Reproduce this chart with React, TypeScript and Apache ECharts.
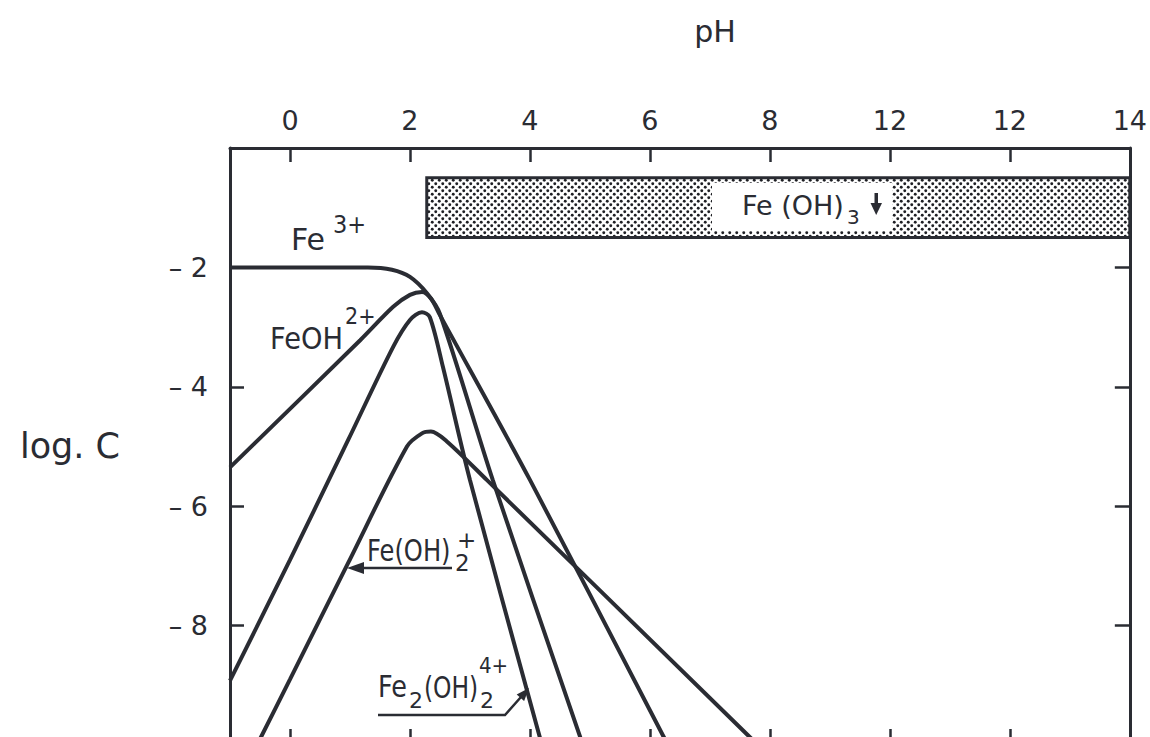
import React, { useEffect, useRef } from "react";
import * as echarts from "echarts";

// pH axis (top) and log C axis (left)
const phTicks = [0, 2, 4, 6, 8, 10, 12, 14];
const phTickLabels = ["0", "2", "4", "6", "8", "12", "12", "14"];
const logTicks = [-2, -4, -6, -8];
const logTickLabels = ["– 2", "– 4", "– 6", "– 8"];

// Species concentration curves: [pH, log C]
const fe3: [number, number][] = [
  [-1, -2.0], [1.3, -2.0], [1.7, -2.04], [2.0, -2.16], [2.28, -2.43],
  [2.5, -2.78], [3.38, -5.56], [4.9, -10.05],
];
const feOH: [number, number][] = [
  [-1, -5.35], [1.17, -3.22], [1.72, -2.66], [2.0, -2.46], [2.2, -2.41],
  [2.35, -2.52], [2.5, -2.8], [4.0, -5.56], [6.3, -10.0],
];
const fe2OH2: [number, number][] = [
  [-1, -8.92], [0, -6.9], [0.97, -4.89], [1.72, -3.33], [2.0, -2.88],
  [2.2, -2.75], [2.33, -2.83], [2.55, -3.67], [3.0, -5.56], [4.2, -10.0],
];
const feOH2: [number, number][] = [
  [-0.55, -10.0], [0, -8.9], [0.97, -6.95], [1.95, -5.0],
  [2.2, -4.78], [2.35, -4.75], [2.62, -4.92], [3.28, -5.56], [7.8, -10.0],
];

// Fe(OH)3 precipitation band: [pH from, log C top, pH to, log C bottom]
const precipitate = [[2.28, -0.5, 14, -1.5]];

const INK = "#2a2c33";
const FONT = '"DejaVu Sans", "Liberation Sans", sans-serif';

const dotTile =
  "data:image/svg+xml;charset=utf-8," +
  encodeURIComponent(
    '<svg xmlns="http://www.w3.org/2000/svg" width="7" height="7">' +
      '<rect width="7" height="7" fill="#ffffff"/>' +
      '<circle cx="1.75" cy="1.75" r="1.45" fill="#1e1f24"/>' +
      '<circle cx="5.25" cy="5.25" r="1.45" fill="#1e1f24"/>' +
      "</svg>"
  );

function txt(
  x: number,
  y: number,
  text: string,
  size: number,
  opts: { scaleX?: number; align?: string } = {}
) {
  return {
    type: "text",
    x,
    y,
    z: 20,
    scaleX: opts.scaleX ?? 1,
    style: {
      text,
      fontSize: size,
      fontFamily: FONT,
      fill: INK,
      align: opts.align ?? "left",
      verticalAlign: "middle",
    },
  };
}

function lineSeries(name: string, data: [number, number][]) {
  return {
    name,
    type: "line",
    data,
    showSymbol: false,
    smooth: 0.3,
    xAxisIndex: 0,
    yAxisIndex: 0,
    lineStyle: { color: INK, width: 4 },
    z: 3,
  };
}

export default function App() {
  const ref = useRef<HTMLDivElement>(null);

  useEffect(() => {
    if (!ref.current) return;
    const chart = echarts.init(ref.current, null, { renderer: "svg" });

    const axisLine = { show: true, onZero: false, lineStyle: { color: INK, width: 3 } };
    const tickStyle = { color: INK, width: 2.5 };
    const labelStyle = { fontSize: 27, fontFamily: FONT, color: INK };

    const option: any = {
      animation: false,
      backgroundColor: "#ffffff",
      grid: { left: 230, right: 20, top: 148, bottom: 15, containLabel: false },
      xAxis: [
        {
          type: "value",
          position: "top",
          min: -1,
          max: 14,
          axisLine,
          axisTick: { show: true, inside: true, length: 14, customValues: phTicks, lineStyle: tickStyle },
          axisLabel: {
            show: true,
            customValues: phTicks,
            margin: 14,
            ...labelStyle,
            formatter: (v: number) => phTickLabels[phTicks.indexOf(Math.round(v))] ?? "",
          },
          splitLine: { show: false },
        },
        {
          type: "value",
          position: "bottom",
          min: -1,
          max: 14,
          axisLine,
          axisTick: { show: true, inside: true, length: 16, customValues: phTicks.slice(0, 7), lineStyle: tickStyle },
          axisLabel: { show: false },
          splitLine: { show: false },
        },
      ],
      yAxis: [
        {
          type: "value",
          position: "left",
          min: -10,
          max: 0,
          axisLine,
          axisTick: { show: true, inside: true, length: 14, customValues: logTicks, lineStyle: tickStyle },
          axisLabel: {
            show: true,
            customValues: logTicks,
            margin: 22,
            ...labelStyle,
            formatter: (v: number) => logTickLabels[logTicks.indexOf(Math.round(v))] ?? "",
          },
          splitLine: { show: false },
        },
        {
          type: "value",
          position: "right",
          min: -10,
          max: 0,
          axisLine,
          axisTick: { show: true, inside: true, length: 15, customValues: logTicks, lineStyle: tickStyle },
          axisLabel: { show: false },
          splitLine: { show: false },
        },
      ],
      series: [
        {
          type: "custom",
          xAxisIndex: 0,
          yAxisIndex: 0,
          data: precipitate,
          encode: { x: [0, 2], y: [1, 3] },
          z: 2,
          renderItem: (_params: any, api: any) => {
            const p0 = api.coord([api.value(0), api.value(1)]);
            const p1 = api.coord([api.value(2), api.value(3)]);
            return {
              type: "rect",
              shape: { x: p0[0], y: p0[1], width: p1[0] - p0[0], height: p1[1] - p0[1] },
              style: {
                fill: { image: dotTile, repeat: "repeat", imageWidth: 7, imageHeight: 7 },
                stroke: INK,
                lineWidth: 3,
              },
            };
          },
        },
        lineSeries("Fe3+", fe3),
        lineSeries("FeOH2+", feOH),
        lineSeries("Fe2(OH)2 4+", fe2OH2),
        lineSeries("Fe(OH)2+", feOH2),
      ],
      graphic: [
        // axis titles
        txt(715, 31, "pH", 30, { align: "center" }),
        txt(70, 446, "log. C", 35, { align: "center" }),

        // Fe3+
        txt(291, 239, "Fe", 30),
        txt(333, 225, "3+", 25, { scaleX: 0.9 }),

        // FeOH2+
        txt(270, 338, "FeOH", 31, { scaleX: 0.88 }),
        txt(345, 316, "2+", 23, { scaleX: 0.9 }),

        // Fe(OH)2+ with pointer
        txt(367, 550, "Fe(OH)", 31, { scaleX: 0.78 }),
        txt(455, 563, "2", 23),
        txt(457, 540, "+", 23),
        { type: "line", z: 20, shape: { x1: 362, y1: 568, x2: 452, y2: 568 }, style: { stroke: INK, lineWidth: 2.5 } },
        { type: "polygon", z: 20, shape: { points: [[347, 568], [364, 562], [364, 574]] }, style: { fill: INK } },

        // Fe2(OH)2 4+ with pointer
        txt(378, 687, "Fe", 30, { scaleX: 0.85 }),
        txt(409, 700, "2", 22),
        txt(424, 687, "(OH)", 30, { scaleX: 0.78 }),
        txt(480, 700, "2", 22),
        txt(479, 666, "4+", 22, { scaleX: 0.9 }),
        {
          type: "polyline",
          z: 20,
          shape: { points: [[378, 715], [505, 715], [521, 697]] },
          style: { stroke: INK, lineWidth: 2.5, fill: "none" },
        },
        {
          type: "polygon",
          z: 20,
          shape: { points: [[529, 688], [524.1, 701.0], [516.7, 694.4]] },
          style: { fill: INK },
        },

        // Fe(OH)3 precipitate label
        { type: "rect", z: 15, shape: { x: 712, y: 183, width: 180, height: 48 }, style: { fill: "#ffffff" } },
        txt(742, 205, "Fe (OH)", 27),
        txt(847, 217, "3", 20),
        { type: "rect", z: 20, shape: { x: 874.5, y: 193, width: 3.5, height: 13 }, style: { fill: INK } },
        { type: "polygon", z: 20, shape: { points: [[870.5, 203], [882, 203], [876.2, 215]] }, style: { fill: INK } },
      ],
    };

    chart.setOption(option);
    return () => chart.dispose();
  }, []);

  return (
    <div
      ref={ref}
      style={{ position: "fixed", left: 0, top: 0, width: 1150, height: 760, background: "#fff" }}
    />
  );
}
